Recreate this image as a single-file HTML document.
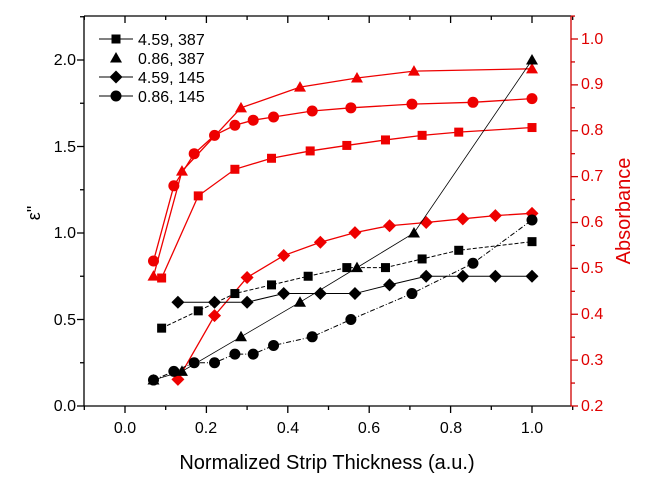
<!DOCTYPE html>
<html><head><meta charset="utf-8"><style>
body{margin:0;background:#fff}
svg{display:block;font-family:"Liberation Sans",sans-serif}
</style></head><body>
<svg id="s" width="649" height="478" xmlns="http://www.w3.org/2000/svg">
<rect width="649" height="478" fill="#fff"/>
<g id="plot"></g>
<g font-size="16" fill="#000" text-anchor="end">
<text x="76" y="411">0.0</text>
<text x="76" y="325">0.5</text>
<text x="76" y="238">1.0</text>
<text x="76" y="152">1.5</text>
<text x="76" y="65">2.0</text>
</g>
<g font-size="16" fill="#000" text-anchor="middle">
<text x="125" y="433">0.0</text>
<text x="206" y="433">0.2</text>
<text x="288" y="433">0.4</text>
<text x="369" y="433">0.6</text>
<text x="451" y="433">0.8</text>
<text x="532" y="433">1.0</text>
</g>
<g font-size="16" fill="#e00000" text-anchor="start">
<text x="581" y="411">0.2</text>
<text x="581" y="365">0.3</text>
<text x="581" y="319">0.4</text>
<text x="581" y="273">0.5</text>
<text x="581" y="227">0.6</text>
<text x="581" y="181">0.7</text>
<text x="581" y="135">0.8</text>
<text x="581" y="89">0.9</text>
<text x="581" y="44">1.0</text>
</g>
<text x="327" y="469" font-size="20" text-anchor="middle">Normalized Strip Thickness (a.u.)</text>
<text transform="translate(630,211) rotate(-90)" font-size="20" fill="#e00000" text-anchor="middle">Absorbance</text>
<text transform="translate(40,213) rotate(-90)" font-size="18" text-anchor="middle">ε"</text>
<g font-size="16">
<text x="138" y="45">4.59, 387</text>
<text x="138" y="64">0.86, 387</text>
<text x="138" y="83">4.59, 145</text>
<text x="138" y="102">0.86, 145</text>
</g>
</svg>
<script>
var NS="http://www.w3.org/2000/svg",g=document.getElementById("plot");
function X(v){return 125+v*407}
function YL(v){return 406-v*173}
function YR(a){return 406-(a-0.2)/0.8*367}
function el(t,a){var e=document.createElementNS(NS,t);for(var k in a)e.setAttribute(k,a[k]);g.appendChild(e);return e}
function line(x1,y1,x2,y2,c,w){el("line",{x1:x1,y1:y1,x2:x2,y2:y2,stroke:c,"stroke-width":w||1.3})}
line(84,16,571,16,"#000");line(84,16,84,406,"#000");line(84,406,571,406,"#000");
line(571,16,571,406,"#d00000");
for(var i=-1;i<=11;i++){var x=X(i/10),big=i%2==0;line(x,406,x,406+(big?7:4),"#000");line(x,16,x,16+(big?7:4),"#000");}
for(var i=0;i<=9;i++){var y=YL(i*0.25);if(y<16)continue;line(84,y,84-(i%2==0?7:4),y,"#000");}
for(var i=0;i<=17;i++){var a=0.2+i*0.05,y=YR(a);if(y<16)continue;line(571,y,571+(i%2==0?7:4),y,"#d00000");}
function marker(t,x,y,c){
 if(t=="s")el("rect",{x:x-4.5,y:y-4.5,width:9,height:9,fill:c});
 else if(t=="t")el("polygon",{points:(x)+","+(y-6)+" "+(x-6)+","+(y+4.5)+" "+(x+6)+","+(y+4.5),fill:c});
 else if(t=="d")el("polygon",{points:x+","+(y-6.5)+" "+(x+6.5)+","+y+" "+x+","+(y+6.5)+" "+(x-6.5)+","+y,fill:c});
 else el("circle",{cx:x,cy:y,r:5.5,fill:c});
}
function series(d,t,c,Y,dash,w){
 var p=d.map(function(q){return X(q[0])+","+Y(q[1])}).join(" ");
 var a={points:p,fill:"none",stroke:c,"stroke-width":w||1};if(dash)a["stroke-dasharray"]=dash;el("polyline",a);
 d.forEach(function(q){marker(t,X(q[0]),Y(q[1]),c)});
}
var R="#ee0000";
series([[0.07,0.483],[0.14,0.712],[0.285,0.85],[0.43,0.895],[0.57,0.915],[0.71,0.93],[1.0,0.935]],"t",R,YR,null,1.3);
series([[0.07,0.516],[0.12,0.68],[0.17,0.75],[0.22,0.79],[0.27,0.812],[0.315,0.823],[0.365,0.83],[0.46,0.843],[0.555,0.85],[0.705,0.858],[0.855,0.862],[1.0,0.87]],"c",R,YR,null,1.3);
series([[0.09,0.479],[0.18,0.658],[0.27,0.716],[0.36,0.74],[0.455,0.756],[0.545,0.768],[0.64,0.78],[0.73,0.79],[0.82,0.797],[1.0,0.807]],"s",R,YR,null,1.3);
series([[0.13,0.258],[0.22,0.397],[0.30,0.48],[0.39,0.528],[0.48,0.557],[0.565,0.578],[0.65,0.593],[0.74,0.60],[0.83,0.608],[0.91,0.615],[1.0,0.62]],"d",R,YR,null,1.3);
series([[0.09,0.45],[0.18,0.55],[0.27,0.65],[0.36,0.7],[0.45,0.75],[0.545,0.8],[0.64,0.8],[0.73,0.85],[0.82,0.9],[1.0,0.95]],"s","#000",YL,"4,2");
series([[0.07,0.15],[0.14,0.2],[0.285,0.4],[0.43,0.6],[0.57,0.8],[0.71,1.0],[1.0,2.0]],"t","#000",YL,null,0.8);
series([[0.13,0.6],[0.22,0.6],[0.30,0.6],[0.39,0.65],[0.48,0.65],[0.565,0.65],[0.65,0.7],[0.74,0.75],[0.83,0.75],[0.91,0.75],[1.0,0.75]],"d","#000",YL,null,1);
series([[0.07,0.15],[0.12,0.2],[0.17,0.25],[0.22,0.25],[0.27,0.3],[0.315,0.3],[0.365,0.35],[0.46,0.4],[0.555,0.5],[0.705,0.65],[0.855,0.825],[1.0,1.075]],"c","#000",YL,"5,2,1,2");
var ly=[39,58,77,96],lt=["s","t","d","c"];
for(var i=0;i<4;i++){if(i!=1)line(99,ly[i],133,ly[i],"#000",1);marker(lt[i],116,ly[i],"#000");}
</script>
</body></html>
